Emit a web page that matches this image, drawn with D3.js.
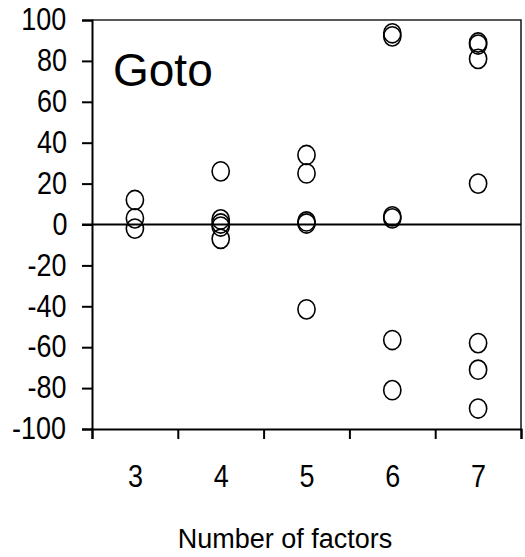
<!DOCTYPE html>
<html>
<head>
<meta charset="utf-8">
<script src="https://cdn.jsdelivr.net/npm/d3@7"></script>
<style>
  html, body { margin: 0; padding: 0; background: #fff; }
  svg { display: block; }
  text { font-family: "Liberation Sans", Arial, sans-serif; fill: #000; }
  .tick text { transform-box: fill-box; transform-origin: center; transform: scale(0.93, 1.05); }
</style>
</head>
<body>
<script>
// ---- data ----
const categories = [3, 4, 5, 6, 7];
const values3 = [12, 3, -2];
const values4 = [26, 2.5, 0.5, -1, -7];
const values5 = [34, 25, 1.5, 0.5, -41.5];
const values6 = [93.5, 92, 4, 3, -56.5, -81];
const values7 = [89, 88, 81, 20, -58, -71, -90];
const yTicks = [100, 80, 60, 40, 20, 0, -20, -40, -60, -80, -100];
const panelLabel = "Goto";
const xTitle = "Number of factors";

(function () {
const seriesByCategory = [values3, values4, values5, values6, values7];
const points = [];
categories.forEach((c, i) => seriesByCategory[i].forEach(v => points.push({ c, v })));

const W = 525, H = 557;
const svg = d3.select("body").append("svg").attr("width", W).attr("height", H);

const mLeft = 92, mRight = 521, mTop = 20, mBottom = 429;
const x = d3.scaleLinear().domain([2.5, 7.5]).range([mLeft, mRight]);
const y = d3.scaleLinear().domain([-100, 100]).range([mBottom, mTop]);

// frame (top + right)
svg.append("path")
  .attr("d", `M${mLeft},${y(100)}H${x(7.5)}V${y(-100)}`)
  .attr("fill", "none").attr("stroke", "#222").attr("stroke-width", 1.6);

// y axis
const yAxis = svg.append("g").attr("transform", `translate(${mLeft},0)`)
  .call(d3.axisLeft(y).tickValues(yTicks).tickSize(10).tickPadding(14).tickFormat(d => String(d)));
yAxis.select(".domain").attr("stroke", "#000").attr("stroke-width", 2);
yAxis.selectAll(".tick line").attr("stroke", "#000").attr("stroke-width", 2);
yAxis.selectAll("text").style("font-size", "29px").attr("font-family", null);

// x axis (tick marks at boundaries)
const xAxis = svg.append("g").attr("transform", `translate(0,${mBottom})`)
  .call(d3.axisBottom(x).tickValues(d3.range(2.5, 7.51, 1)).tickSize(10).tickFormat(""));
xAxis.select(".domain").attr("stroke", "#000").attr("stroke-width", 2);
xAxis.selectAll(".tick line").attr("stroke", "#000").attr("stroke-width", 2);

// x labels at category centres
const xLab = svg.append("g").attr("transform", `translate(0,${mBottom})`)
  .call(d3.axisBottom(x).tickValues(categories).tickSize(0).tickPadding(37).tickFormat(d => String(d)));
xLab.select(".domain").remove();
xLab.selectAll("text").style("font-size", "29px").attr("font-family", null);

// zero line
svg.append("line")
  .attr("x1", mLeft - 10).attr("x2", x(7.5))
  .attr("y1", y(0)).attr("y2", y(0))
  .attr("stroke", "#000").attr("stroke-width", 2);

// points
svg.append("g").selectAll("ellipse").data(points).join("ellipse")
  .attr("cx", d => x(d.c)).attr("cy", d => y(d.v))
  .attr("rx", 8.6).attr("ry", 9.6)
  .attr("fill", "none").attr("stroke", "#000").attr("stroke-width", 1.6);

// panel label
svg.append("text").attr("x", 113).attr("y", 86)
  .style("font-size", "46px").text(panelLabel);

// x title
svg.append("text").attr("x", 285).attr("y", 548)
  .attr("text-anchor", "middle").style("font-size", "27px").text(xTitle);
})();
</script>
</body>
</html>
